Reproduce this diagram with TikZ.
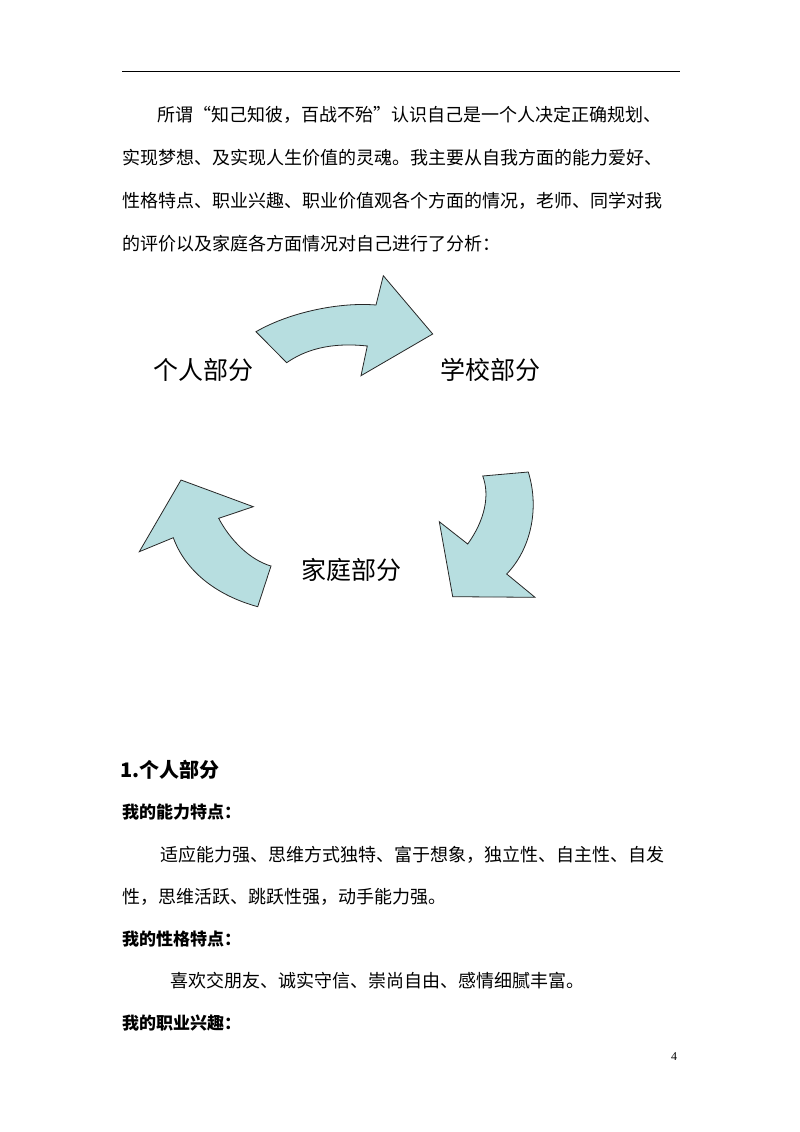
\documentclass[tikz,border=0pt]{standalone}
\usepackage{fontspec}
\setmainfont{Noto Sans CJK SC}
\newfontfamily\numfont{Liberation Serif}
\begin{document}
\begin{tikzpicture}[x=1pt,y=-1pt,
  body/.style={anchor=west,inner sep=0pt,font=\fontsize{18}{18}\selectfont},
  bhead/.style={anchor=west,inner sep=0pt,font=\fontsize{17}{17}\selectfont\bfseries},
  lab/.style={inner sep=0pt,font=\fontsize{25}{25}\selectfont},
  arr/.style={draw=black!85,line width=0.8pt,fill=arrowfill,line join=miter}]
\definecolor{arrowfill}{HTML}{B7DEE0}
\useasboundingbox (0,0) rectangle (800,1132);
\draw[line width=0.8pt] (122,71) coordinate (r1) -- (680,71) coordinate (r2);
\node[body] (l1) at (157,115) {所谓“知己知彼，百战不殆”认识自己是一个人决定正确规划、};
\node[body] (l2) at (122,158) {实现梦想、及实现人生价值的灵魂。我主要从自我方面的能力爱好、};
\node[body] (l3) at (122,201) {性格特点、职业兴趣、职业价值观各个方面的情况，老师、同学对我};
\node[body] (l4) at (122,244) {的评价以及家庭各方面情况对自己进行了分析：};
% arrows
\draw[arr] (286.7,362.7) -- (256,331.7) .. controls (290,312) and (340,302) .. (376,305)
  -- (383.3,275.7) -- (432.7,334) -- (361,375.7) -- (367.3,346)
  .. controls (330,342) and (305,350) .. cycle;
\draw[arr] (482.7,476) -- (528.3,472) .. controls (540,510) and (530,550) .. (506.7,574)
  -- (535,597.3) -- (452.7,596.7) -- (439.3,521.7) -- (467.7,544)
  .. controls (485,520) and (490,495) .. cycle;
\draw[arr] (271,566) -- (257.7,606.7) .. controls (215,595) and (185,570) .. (173.3,537.7)
  -- (139.3,551.7) -- (181,480) -- (253.3,506.7) -- (218.7,518.3)
  .. controls (230,540) and (250,560) .. cycle;
\node[lab] (p1) at (203,370) {个人部分};
\node[lab] (p2) at (490,370) {学校部分};
\node[lab] (p3) at (351,570) {家庭部分};
\node[anchor=west,inner sep=0pt,font=\fontsize{20}{20}\selectfont\bfseries] (h1) at (120,770) {1.个人部分};
\node[bhead] (h2) at (122,812) {我的能力特点：};
\node[body] (l5) at (160,855) {适应能力强、思维方式独特、富于想象，独立性、自主性、自发};
\node[body] (l6) at (122,897) {性，思维活跃、跳跃性强，动手能力强。};
\node[bhead] (h3) at (122,939) {我的性格特点：};
\node[body] (l7) at (170,981) {喜欢交朋友、诚实守信、崇尚自由、感情细腻丰富。};
\node[bhead] (h4) at (122,1023) {我的职业兴趣：};
\node[inner sep=0pt,font=\numfont\fontsize{12}{12}\selectfont] (pg) at (674,1057) {4};
\end{tikzpicture}
\end{document}
